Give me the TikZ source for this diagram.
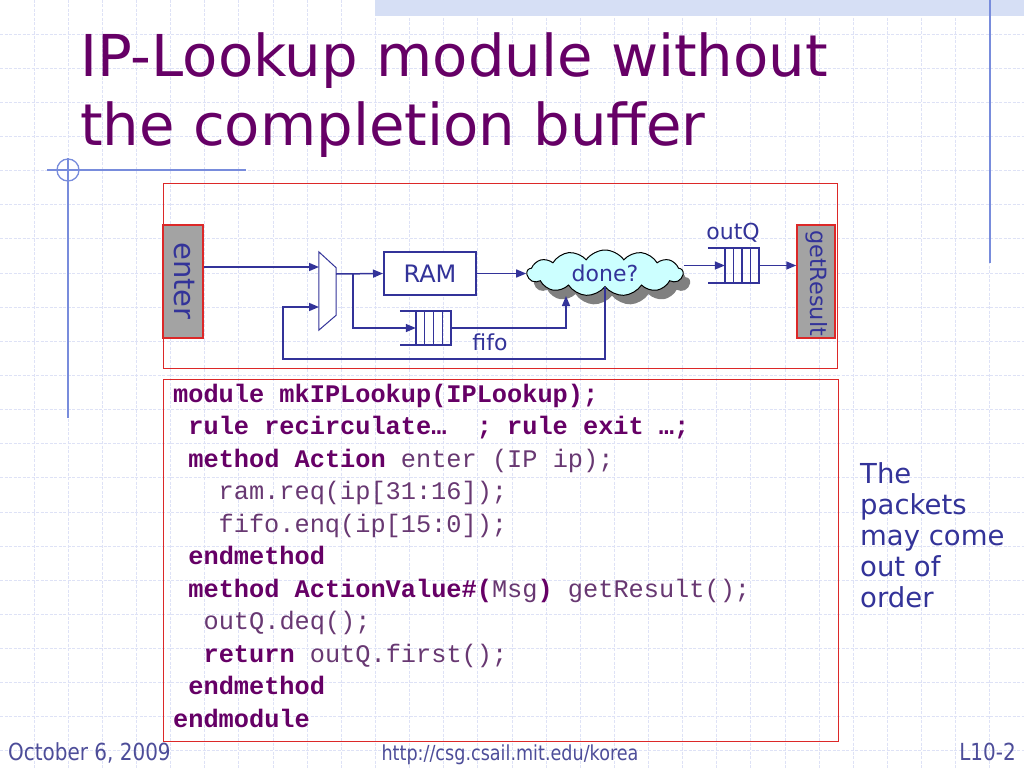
\documentclass[tikz,border=0pt]{standalone}
\usepackage{fontspec}
\setmainfont{DejaVu Sans}
\newfontfamily\mono{Liberation Mono}
\newfontfamily\footfont[FakeStretch=0.85]{DejaVu Sans}
\usetikzlibrary{shapes.symbols,shadows,arrows.meta,calc}
\definecolor{titlec}{RGB}{102,0,102}
\definecolor{ink}{RGB}{51,51,153}
\definecolor{gridc}{RGB}{222,226,246}
\definecolor{deco}{RGB}{120,140,220}
\definecolor{boxred}{RGB}{220,40,40}
\definecolor{cyanfill}{RGB}{204,255,255}
\definecolor{bandc}{RGB}{214,223,245}
\definecolor{footc}{RGB}{77,77,153}
\definecolor{codelt}{RGB}{104,56,114}
\definecolor{boxgray}{RGB}{163,163,163}
\definecolor{shadowc}{RGB}{128,128,128}
\newcommand\codekw[1]{\textbf{#1}}
\newcommand\codepl[1]{\textcolor{codelt}{#1}}
\tikzset{
  gridline/.style={draw=gridc, line width=1pt, dash pattern=on 3pt off 1.5pt},
  decoline/.style={draw=deco, line width=1.3pt},
  frame/.style={draw=boxred, line width=1pt, inner sep=0pt},
  portbox/.style={draw=boxred, line width=1.5pt, fill=boxgray, minimum width=40pt, minimum height=113pt, inner sep=0pt},
  lbl/.style={inner sep=0pt, text=ink},
  wire/.style={draw=ink, line width=1.5pt},
  arr/.style={draw=ink, line width=1.5pt, -{Triangle[length=10pt,width=8pt]}},
  qline/.style={draw=ink, line width=1.5pt},
  hold/.style={inner sep=0pt, draw=none},
  codeline/.style={anchor=base west, inner sep=0pt, text=titlec, font=\mono\fontsize{25.3}{30}\selectfont},
  foot/.style={inner sep=0pt, text=footc, font=\footfont\fontsize{23.5}{26}\selectfont}
}
\begin{document}
\begin{tikzpicture}[x=1pt,y=-1pt]
\useasboundingbox (0,0) rectangle (1024,768);
\fill[white] (0,0) rectangle (1024,768);
% background grid
\foreach \i in {1,...,29} \draw[gridline] ({\i*34.133},0) -- ({\i*34.133},768);
\foreach \j in {1,...,22} \draw[gridline] (0,{\j*34.133}) -- (1024,{\j*34.133});
% top band
\fill[bandc] (375,0) rectangle (1024,16);
% decoration lines
\draw[decoline] (990,0) -- (990,263);
\draw[decoline] (47,170) -- (246,170);
\draw[decoline] (68,158) -- (68,418);
\draw[decoline] (68,170) circle[radius=11];
% title
\node[anchor=base west, inner sep=0pt, text=titlec, font=\fontsize{57.7}{68}\selectfont] (title1) at (80,77) {IP-Lookup module without};
\node[anchor=base west, inner sep=0pt, text=titlec, font=\fontsize{57.7}{68}\selectfont] (title2) at (80,145) {the completion buffer};
% frames
\node[frame, minimum width=674pt, minimum height=185pt] (diagframe) at (500,275.5) {};
\node[frame, minimum width=675pt, minimum height=362pt] (codeframe) at (500.5,560) {};
% ports
\node[portbox] (enter) at (183,281.5) {};
\node[lbl, rotate=-90, font=\fontsize{29}{30}\selectfont] (entertxt) at (184,281) {enter};
\node[portbox, minimum width=38pt] (getResult) at (816,281.5) {};
\node[lbl, rotate=-90, font=\fontsize{22.4}{24}\selectfont] (getResulttxt) at (816.5,283) {getResult};
% mux
\node[hold, minimum width=17pt, minimum height=78pt] (mux) at (327.5,291) {};
\draw[draw=ink, line width=1pt, fill=white] (mux.north west) -- ($(mux.north east)+(0,16)$) -- ($(mux.south east)+(0,-15)$) -- (mux.south west) -- cycle;
\coordinate (muxin1) at (319,267);
\coordinate (muxin2) at (319,307);
\coordinate (muxout) at (336,274);
\coordinate (split) at (353,274);
% RAM
\node[draw=ink, line width=2pt, fill=white, minimum width=92pt, minimum height=43pt, inner sep=0pt, text=ink, font=\fontsize{24}{26}\selectfont] (RAM) at (430,273.5) {RAM};
% fifo queue
\node[hold, minimum width=35pt, minimum height=34pt] (fifo) at (433.5,328) {};
\draw[qline] ($(fifo.north west)+(-16,0)$) -- (fifo.north east) -- (fifo.south east) -- ($(fifo.south west)+(-16,0)$);
\foreach \f in {0,0.25,0.5,0.75}
  \draw[qline] ($(fifo.north west)!\f!(fifo.north east)$) -- ($(fifo.south west)!\f!(fifo.south east)$);
\node[lbl, font=\fontsize{22}{24}\selectfont] (fifotxt) at (490,342) {fifo};
% outQ queue
\node[hold, minimum width=34pt, minimum height=35pt] (outQ) at (742,265.5) {};
\draw[qline] ($(outQ.north west)+(-17,0)$) -- (outQ.north east) -- (outQ.south east) -- ($(outQ.south west)+(-17,0)$);
\foreach \f in {0,0.25,0.5,0.75}
  \draw[qline] ($(outQ.north west)!\f!(outQ.north east)$) -- ($(outQ.south west)!\f!(outQ.south east)$);
\node[lbl, font=\fontsize{22}{24}\selectfont] (outQtxt) at (733,233) {outQ};
% cloud
\node[cloud, cloud ignores aspect, cloud puffs=13, cloud puff arc=110, draw=black, line width=1pt, fill=cyanfill, minimum width=156pt, minimum height=46pt, inner sep=0pt, text=ink, font=\fontsize{22}{24}\selectfont,
  drop shadow={shadow xshift=7pt, shadow yshift=-9pt, fill=shadowc, opacity=1}] (done) at (605,273) {done?};
\coordinate (fifoin) at (566,296);
\coordinate (loopb) at (283,359);
% connectors
\draw[arr] (enter.east |- muxin1) -- (muxin1);
\draw[arr] (muxout) -- (RAM.west);
\draw[arr] (split) |- (fifo.west);
\draw[arr] (RAM.east) -- (RAM.east -| done.west);
\draw[arr] (fifo.east) -| (fifoin);
\draw[arr] (done.south) -- (done.south |- loopb) -- (loopb) -- (loopb |- muxin2) -- (muxin2);
\draw[arr] (done.east |- outQ.west) -- (outQ.west);
\draw[arr] (outQ.east) -- (outQ.east -| getResult.west);
% side note
\node[anchor=north west, inner sep=0pt, text=ink, align=left, font=\fontsize{27.5}{31}\selectfont] (note) at (860,462) {The\\packets\\may come\\out of\\order};
% code
\node[codeline] (c1) at (173,402) {\codekw{module mkIPLookup(IPLookup);}};
\node[codeline] (c2) at (188.2,434.5) {\codekw{rule recirculate…\ \ ; rule exit …;}};
\node[codeline] (c3) at (188.2,467) {\codekw{method Action} \codepl{enter (IP ip);}};
\node[codeline] (c4) at (218.5,499.5) {\codepl{ram.req(ip[31:16]);}};
\node[codeline] (c5) at (218.5,532) {\codepl{fifo.enq(ip[15:0]);}};
\node[codeline] (c6) at (188.2,564.5) {\codekw{endmethod}};
\node[codeline] (c7) at (188.2,597) {\codekw{method ActionValue\#(}\codepl{Msg}\codekw{)} \codepl{getResult();}};
\node[codeline] (c8) at (203.4,629.5) {\codepl{outQ.deq();}};
\node[codeline] (c9) at (203.4,662) {\codekw{return} \codepl{outQ.first();}};
\node[codeline] (c10) at (188.2,694.5) {\codekw{endmethod}};
\node[codeline] (c11) at (173,727) {\codekw{endmodule}};
% footer
\node[foot, anchor=base west] (date) at (8,760) {October 6, 2009};
\node[foot, anchor=base, font=\footfont\fontsize{20.7}{24}\selectfont] (url) at (510,760) {http://csg.csail.mit.edu/korea};
\node[foot, anchor=base east] (slide) at (1016,760) {L10-2};
\end{tikzpicture}
\end{document}
